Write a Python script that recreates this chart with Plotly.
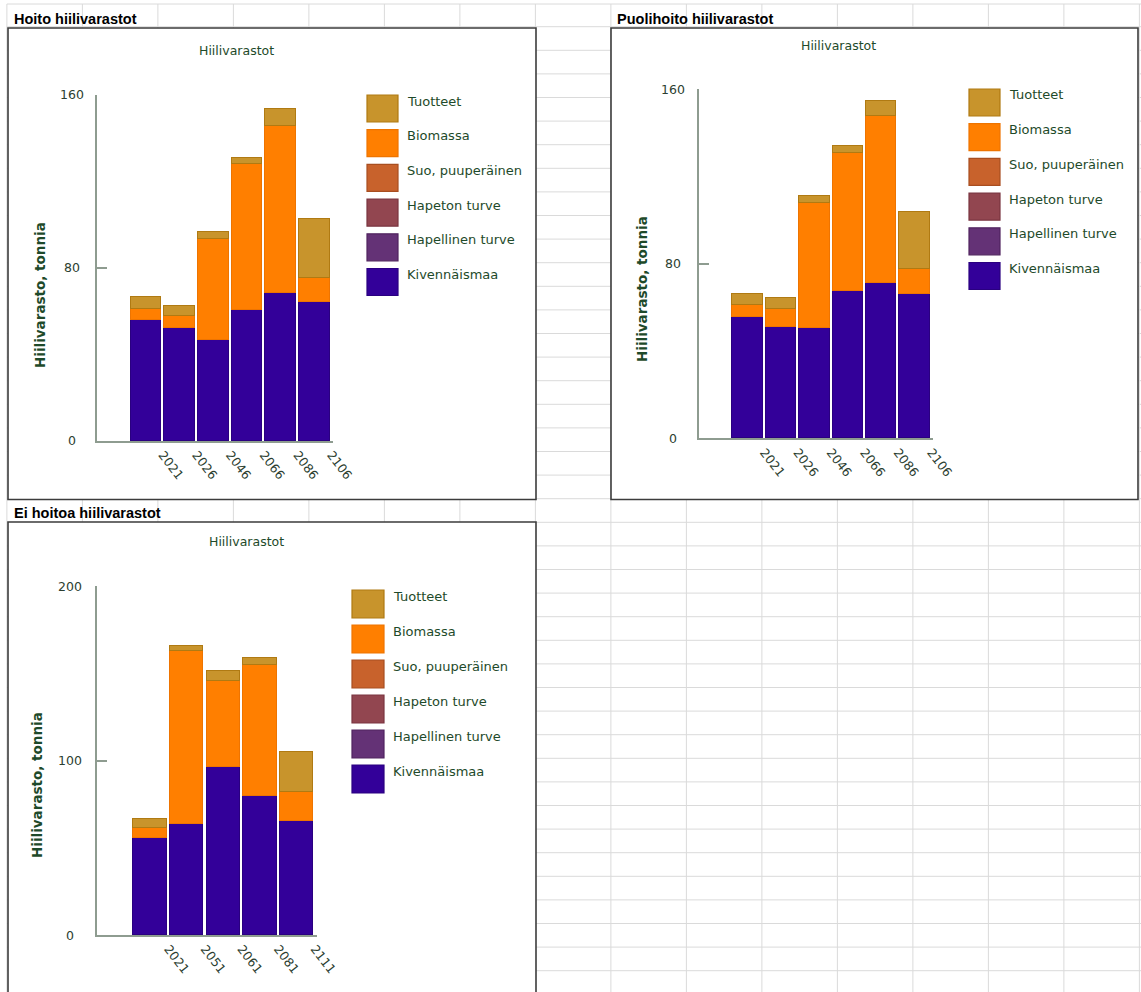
import plotly.graph_objects as go

W, H = 1141, 992

# ---------------------------------------------------------------- data
series_names = ["Kivennäismaa", "Hapellinen turve", "Hapeton turve",
                "Suo, puuperäinen", "Biomassa", "Tuotteet"]
series_fill = ["#330099", "#643276", "#924650", "#C8622C", "#FF7F00", "#C8942C"]
series_edge = ["#2A0080", "#50245F", "#7A3540", "#A84E20", "#EE7400", "#B07A12"]

hoito_years = ["2021", "2026", "2046", "2066", "2086", "2106"]
hoito_kivennaismaa = [56.0, 52.4, 46.7, 60.7, 68.4, 64.3]
hoito_hapellinen = [0, 0, 0, 0, 0, 0]
hoito_hapeton = [0, 0, 0, 0, 0, 0]
hoito_suo = [0, 0, 0, 0, 0, 0]
hoito_biomassa = [5.0, 5.5, 46.9, 67.4, 77.1, 11.2]
hoito_tuotteet = [5.4, 4.4, 3.2, 2.9, 8.0, 27.2]

puoli_years = ["2021", "2026", "2046", "2066", "2086", "2106"]
puoli_kivennaismaa = [55.7, 51.1, 50.4, 67.6, 71.1, 66.0]
puoli_hapellinen = [0, 0, 0, 0, 0, 0]
puoli_hapeton = [0, 0, 0, 0, 0, 0]
puoli_suo = [0, 0, 0, 0, 0, 0]
puoli_biomassa = [5.2, 8.1, 57.5, 63.2, 76.5, 11.7]
puoli_tuotteet = [5.3, 4.9, 3.1, 3.0, 6.9, 25.8]

ei_years = ["2021", "2051", "2061", "2081", "2111"]
ei_kivennaismaa = [55.8, 63.8, 96.3, 79.7, 65.2]
ei_hapellinen = [0, 0, 0, 0, 0]
ei_hapeton = [0, 0, 0, 0, 0]
ei_suo = [0, 0, 0, 0, 0]
ei_biomassa = [5.3, 99.1, 49.4, 75.0, 16.6]
ei_tuotteet = [5.2, 2.9, 5.4, 3.9, 22.9]

hoito_yticks = [0, 80, 160]
puoli_yticks = [0, 80, 160]
ei_yticks = [0, 100, 200]

chart_title = "Hiilivarastot"
axis_title = "Hiilivarasto, tonnia"

# ---------------------------------------------------------------- layout of the sheet
def fx(px):
    return px / W


def fy(py):
    return 1 - py / H


TXT = "#1E4A2A"
TICKTXT = "#2C3E30"
AXIS = "#8E9C90"
GRID = "#DADADA"
FRAME = "#3C3C3C"
CHART_FONT = "DejaVu Sans"

charts = [
    dict(sheet_title="Hoito hiilivarastot", sheet_xy=(12, 19),
         frame=(8, 28, 536, 499.5),
         years=hoito_years,
         stacks=[hoito_kivennaismaa, hoito_hapellinen, hoito_hapeton,
                 hoito_suo, hoito_biomassa, hoito_tuotteet],
         yticks=hoito_yticks,
         x_px=(97, 333), y_px=(441, 95),
         title_xy=(236.5, 50.5), ylab_xy=(72, None), ytitle_xy=(40, 295),
         legend=dict(x=367, y=95, w=31, h=27, step=34.7, tx=405)),
    dict(sheet_title="Puolihoito hiilivarastot", sheet_xy=(614.5, 19),
         frame=(611, 28, 1138, 499.5),
         years=puoli_years,
         stacks=[puoli_kivennaismaa, puoli_hapellinen, puoli_hapeton,
                 puoli_suo, puoli_biomassa, puoli_tuotteet],
         yticks=puoli_yticks,
         x_px=(699, 933), y_px=(438.3, 89),
         title_xy=(838.5, 45), ylab_xy=(673, None), ytitle_xy=(642, 289),
         legend=dict(x=969, y=89, w=31, h=27, step=34.7, tx=1007)),
    dict(sheet_title="Ei hoitoa hiilivarastot", sheet_xy=(12, 513),
         frame=(8, 522, 536, 1000),
         years=ei_years,
         stacks=[ei_kivennaismaa, ei_hapellinen, ei_hapeton,
                 ei_suo, ei_biomassa, ei_tuotteet],
         yticks=ei_yticks,
         x_px=(97, 316.7), y_px=(935, 586),
         title_xy=(246, 541), ylab_xy=(70, None), ytitle_xy=(37, 785),
         legend=dict(x=352, y=590, w=32, h=28, step=35, tx=391)),
]

fig = go.Figure()
shapes = []
annotations = []

# spreadsheet cell grid
col_x = [6.9 + 75.5 * k for k in range(16)]
row_y = [4] + [26.7 + 23.6 * k for k in range(41)]
for x in col_x:
    shapes.append(dict(type="line", xref="paper", yref="paper", layer="below",
                       x0=fx(x), x1=fx(x), y0=fy(4), y1=fy(H),
                       line=dict(color=GRID, width=1)))
for y in row_y:
    shapes.append(dict(type="line", xref="paper", yref="paper", layer="below",
                       x0=fx(col_x[0]), x1=1, y0=fy(y), y1=fy(y),
                       line=dict(color=GRID, width=1)))

layout_axes = {}
for k, c in enumerate(charts):
    sfx = "" if k == 0 else str(k + 1)
    xa, ya = "x" + sfx, "y" + sfx
    n = len(c["years"])

    # chart frame (white box above the cell grid)
    x0, y0, x1, y1 = c["frame"]
    shapes.append(dict(type="rect", xref="paper", yref="paper", layer="below",
                       x0=fx(x0), x1=fx(x1), y0=fy(y1), y1=fy(y0),
                       fillcolor="white", line=dict(color=FRAME, width=1.6)))

    # sheet cell title
    annotations.append(dict(text="<b>" + c["sheet_title"] + "</b>",
                            xref="paper", yref="paper",
                            x=fx(c["sheet_xy"][0]), y=fy(c["sheet_xy"][1]),
                            xanchor="left", yanchor="middle", showarrow=False,
                            font=dict(family="Liberation Sans", size=14.5, color="#000000")))

    # stacked bars
    for name, vals, fill, edge in zip(series_names, c["stacks"], series_fill, series_edge):
        fig.add_trace(go.Bar(x=c["years"], y=vals, name=name, xaxis=xa, yaxis=ya,
                             width=0.91, offset=-0.955, showlegend=False,
                             marker=dict(color=fill, line=dict(color=edge, width=1))))

    ymax = c["yticks"][-1]
    layout_axes["xaxis" + sfx] = dict(
        domain=[fx(c["x_px"][0]), fx(c["x_px"][1])], anchor=ya,
        type="category", range=[-1.95, n - 0.95],
        showline=True, linecolor=AXIS, linewidth=1.5,
        ticks="", showgrid=False, zeroline=False, automargin=False,
        tickangle=52, tickfont=dict(family=CHART_FONT, size=12.5, color=TICKTXT))
    layout_axes["yaxis" + sfx] = dict(
        domain=[fy(c["y_px"][0]), fy(c["y_px"][1])], anchor=xa,
        range=[0, ymax], showline=True, linecolor=AXIS, linewidth=1.5,
        ticks="inside", ticklen=10, tickwidth=1.5, tickcolor=AXIS,
        tickvals=c["yticks"], showticklabels=False,
        showgrid=False, zeroline=False, automargin=False)

    # value labels of the y axis, centred in their column
    for v in c["yticks"]:
        annotations.append(dict(text=str(v), xref="paper", yref=ya,
                                x=fx(c["ylab_xy"][0]), y=v,
                                xanchor="center", yanchor="middle", showarrow=False,
                                font=dict(family=CHART_FONT, size=12.5, color=TICKTXT)))

    # chart title and axis title
    annotations.append(dict(text=chart_title, xref="paper", yref="paper",
                            x=fx(c["title_xy"][0]), y=fy(c["title_xy"][1]),
                            xanchor="center", yanchor="middle", showarrow=False,
                            font=dict(family=CHART_FONT, size=12.5, color=TXT)))
    annotations.append(dict(text="<b>" + axis_title + "</b>", xref="paper", yref="paper",
                            x=fx(c["ytitle_xy"][0]), y=fy(c["ytitle_xy"][1]),
                            xanchor="center", yanchor="middle", showarrow=False,
                            textangle=-90,
                            font=dict(family=CHART_FONT, size=13.5, color=TXT)))

    # legend: large swatches, top series first
    lg = c["legend"]
    for j, idx in enumerate(reversed(range(len(series_names)))):
        top = lg["y"] + j * lg["step"]
        shapes.append(dict(type="rect", xref="paper", yref="paper",
                           x0=fx(lg["x"]), x1=fx(lg["x"] + lg["w"]),
                           y0=fy(top + lg["h"]), y1=fy(top),
                           fillcolor=series_fill[idx],
                           line=dict(color=series_edge[idx], width=1.2)))
        annotations.append(dict(text=series_names[idx], xref="paper", yref="paper",
                                x=fx(lg["tx"]), y=fy(top + 6),
                                xanchor="left", yanchor="middle", showarrow=False,
                                font=dict(family=CHART_FONT, size=13, color=TXT)))

fig.update_layout(
    width=W, height=H, margin=dict(l=0, r=0, t=0, b=0),
    paper_bgcolor="white", plot_bgcolor="rgba(0,0,0,0)",
    barmode="stack", bargap=0, showlegend=False,
    shapes=shapes, annotations=annotations,
    **layout_axes)

fig.write_html("out.html")
